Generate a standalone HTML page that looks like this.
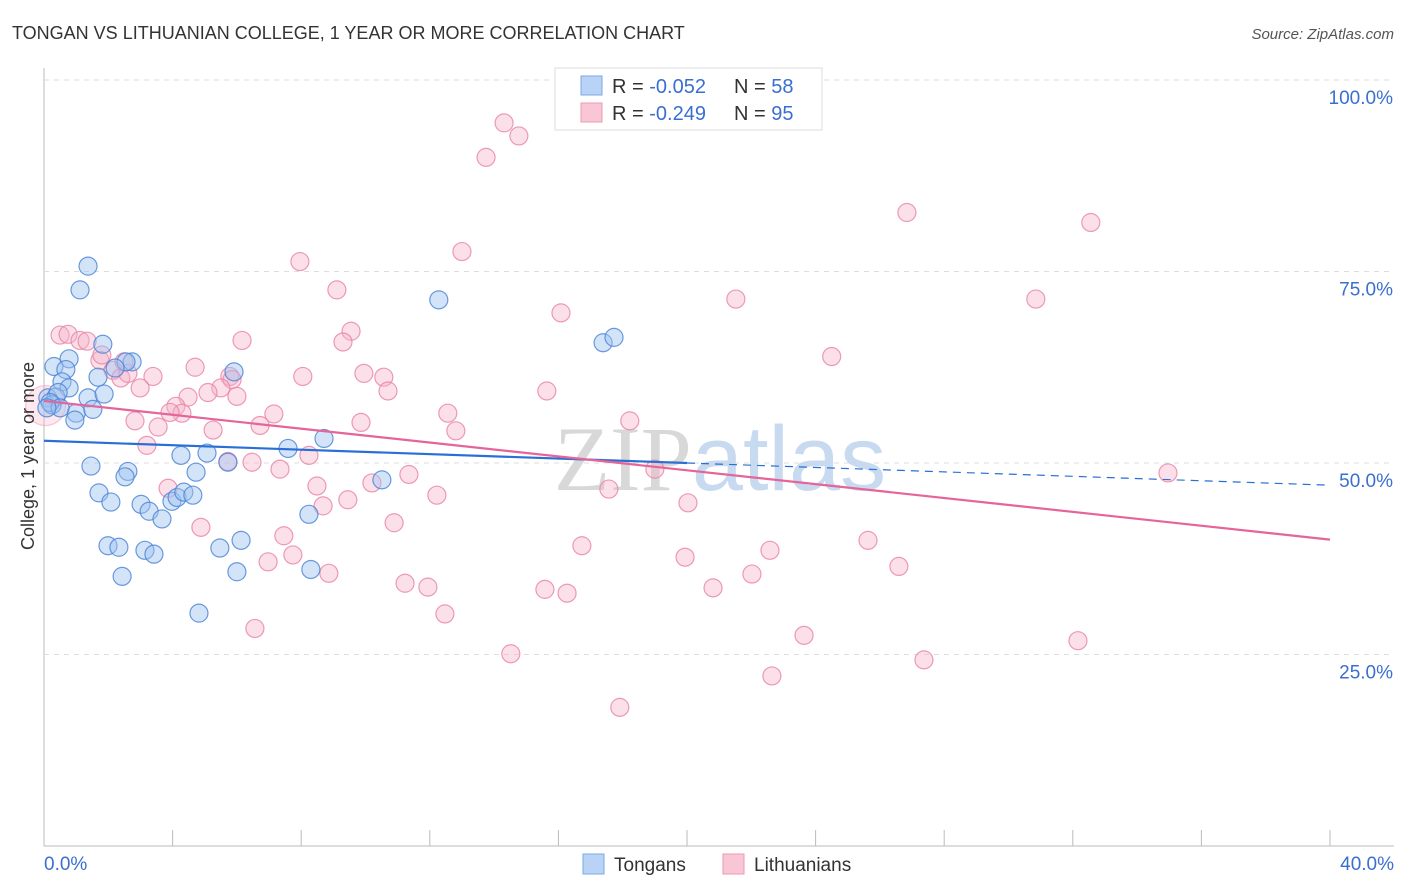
<!DOCTYPE html>
<html><head><meta charset="utf-8">
<style>
body{margin:0;background:#fff;font-family:"Liberation Sans",sans-serif;}
svg{display:block}
</style></head>
<body>
<svg id="chart" width="1406" height="892">
<text x="12" y="39" font-size="18" fill="#333">TONGAN VS LITHUANIAN COLLEGE, 1 YEAR OR MORE CORRELATION CHART</text>
<text x="1394" y="39" font-size="15" fill="#555" font-style="italic" text-anchor="end">Source: ZipAtlas.com</text>
<g id="grid"></g>
<text x="720" y="490" font-size="92" fill="#ddd" text-anchor="middle" font-family="Liberation Serif,serif"><tspan fill="#d8d8d8">ZIP</tspan><tspan fill="#c8daf0" font-family="Liberation Sans,sans-serif">atlas</tspan></text>
<g id="pts"></g>
<g id="lines"></g>
<text transform="translate(34,456) rotate(-90)" font-size="18" fill="#333" text-anchor="middle">College, 1 year or more</text>
<g>
<rect x="555" y="68" width="267" height="62" fill="#fff" stroke="#ddd"/>
<rect x="581" y="76" width="21" height="19" fill="#b8d3f5" stroke="#7aa8e6"/>
<rect x="581" y="103" width="21" height="19" fill="#f9c6d5" stroke="#ec9ab5"/>
<text x="612" y="93" font-size="20" fill="#333">R = <tspan fill="#3a6fd0">-0.052</tspan></text>
<text x="734" y="93" font-size="20" fill="#333">N = <tspan fill="#3a6fd0">58</tspan></text>
<text x="612" y="120" font-size="20" fill="#333">R = <tspan fill="#3a6fd0">-0.249</tspan></text>
<text x="734" y="120" font-size="20" fill="#333">N = <tspan fill="#3a6fd0">95</tspan></text>
</g>
<g>
<rect x="583" y="854" width="21" height="20" fill="#b8d3f5" stroke="#7aa8e6"/>
<text x="614" y="871" font-size="19" fill="#333">Tongans</text>
<rect x="723" y="854" width="21" height="20" fill="#f9c6d5" stroke="#ec9ab5"/>
<text x="754" y="871" font-size="19" fill="#333">Lithuanians</text>
</g>
</svg>
<script>
const yTicks=[25,50,75,100];
const xLabels=["0.0%","40.0%"];
const tonganX=[1.37,1.12,12.28,17.39,17.73,1.83,2.74,2.55,0.78,0.31,0.68,0.56,0.78,1.68,0.12,0.37,0.44,0.25,1.37,1.87,1.0,1.52,0.96,2.21,5.91,7.59,8.71,1.46,2.61,2.52,4.26,5.07,5.72,4.73,1.71,2.08,3.02,3.27,3.67,3.98,4.14,4.35,4.63,10.51,8.24,1.99,2.33,3.14,3.42,5.47,6.13,2.43,6.0,8.3,4.82,0.19,0.5,0.09];
const tonganY=[75.7,72.6,71.3,65.7,66.4,65.5,63.2,63.2,63.6,62.6,62.2,60.6,59.8,61.2,58.5,58.6,59.2,57.6,58.5,59.0,56.5,57.0,55.6,62.4,61.9,51.9,53.2,49.6,48.9,48.2,51.0,51.3,50.1,48.8,46.1,44.9,44.6,43.7,42.7,45.0,45.5,46.2,45.8,47.8,43.3,39.2,39.0,38.6,38.1,38.9,39.9,35.2,35.8,36.1,30.4,57.9,57.2,57.2];
const lithX=[14.31,14.77,13.75,26.84,32.56,13.0,7.96,9.11,21.52,30.85,16.08,9.55,9.3,6.16,0.5,0.75,1.12,1.34,1.74,1.8,2.15,2.39,2.61,2.49,3.39,2.99,4.7,5.78,5.85,8.05,9.95,10.57,10.7,15.64,5.5,5.1,6.0,4.48,4.1,4.29,3.92,7.15,9.86,2.83,3.55,12.56,6.72,5.26,12.81,18.22,24.5,3.2,8.24,6.47,5.72,7.34,11.35,10.2,19.0,34.96,8.49,3.86,9.45,12.22,8.68,17.57,20.03,10.89,4.88,7.46,25.63,16.73,22.58,19.94,7.74,6.97,8.86,22.02,26.59,11.23,11.94,15.58,16.27,20.81,12.47,6.56,23.64,32.16,14.52,27.37,22.64,17.91,0.05];
const lithY=[94.4,92.7,89.9,82.7,81.4,77.6,76.3,72.6,71.4,71.4,69.6,67.2,65.8,66.0,66.7,66.8,66.0,65.9,63.4,64.1,62.1,61.1,61.7,63.2,61.3,59.8,62.5,61.3,60.9,61.3,61.7,61.2,59.4,59.4,59.8,59.2,58.7,58.6,57.4,56.5,56.6,56.4,55.3,55.5,54.7,56.5,54.9,54.3,54.2,55.5,63.9,52.3,51.0,50.1,50.2,49.2,48.5,47.4,49.2,48.7,47.0,46.7,45.2,45.8,44.4,46.6,44.8,42.2,41.6,40.5,39.9,39.2,38.6,37.7,38.0,37.1,35.6,35.5,36.5,34.3,33.8,33.5,33.0,33.7,30.3,28.4,27.5,26.8,25.1,24.3,22.2,18.1,57.5];
const tonganTrend=[52.9,47.1];
const lithTrend=[58.1,40.0];
const tonganSolidEnd=20;

const NS="http://www.w3.org/2000/svg";
const sx=v=>44+v/40*1286;
const sy=v=>846-v/100*766;
function mk(tag,attrs,parent){const e=document.createElementNS(NS,tag);for(const k in attrs)e.setAttribute(k,attrs[k]);parent.appendChild(e);return e;}
const grid=document.getElementById('grid');
const svg=document.getElementById('chart');
mk('line',{x1:44,y1:68,x2:44,y2:846,stroke:'#bbb'},grid);
mk('line',{x1:44,y1:846,x2:1394,y2:846,stroke:'#bbb'},grid);
for(let i=0;i<=10;i++){mk('line',{x1:sx(i*4),y1:830,x2:sx(i*4),y2:846,stroke:'#bbb'},grid);}
yTicks.forEach(t=>{
 const l=mk('line',{x1:44,y1:sy(t),x2:1394,y2:sy(t),stroke:'#ddd','stroke-dasharray':'5,5'},grid);
 
 
 const tx=mk('text',{x:1393,y:sy(t)+24,'font-size':19,fill:'#3a6fd0','text-anchor':'end'},svg);
 tx.textContent=t.toFixed(1)+'%';
 
 
});
const x0=mk('text',{x:44,y:870,'font-size':19,fill:'#3a6fd0'},svg);x0.textContent=xLabels[0];


const x1=mk('text',{x:1394,y:870,'font-size':19,fill:'#3a6fd0','text-anchor':'end'},svg);x1.textContent=xLabels[1];


const pts=document.getElementById('pts');
lithX.forEach((x,i)=>{
 const big=i===lithX.length-1;
 const c=mk('circle',{cx:sx(x),cy:sy(lithY[i]),r:big?20:9,fill:big?'rgba(246,178,200,0.3)':'rgba(246,178,200,0.4)',stroke:big?'rgba(232,130,165,0.4)':'rgba(232,130,165,0.8)','stroke-width':1.2},pts);
 
 
});
tonganX.forEach((x,i)=>{
 const c=mk('circle',{cx:sx(x),cy:sy(tonganY[i]),r:9,fill:'rgba(160,196,240,0.45)',stroke:'rgba(70,130,215,0.8)','stroke-width':1.2},pts);
 
 
});
const lines=document.getElementById('lines');
const ty=x=>tonganTrend[0]+(tonganTrend[1]-tonganTrend[0])*x/40;
const a=mk('line',{x1:sx(0),y1:sy(ty(0)),x2:sx(tonganSolidEnd),y2:sy(ty(tonganSolidEnd)),stroke:'#2a6fd6','stroke-width':2.2},lines);


const b=mk('line',{x1:sx(tonganSolidEnd),y1:sy(ty(tonganSolidEnd)),x2:sx(40),y2:sy(ty(40)),stroke:'#2a6fd6','stroke-width':1.2,'stroke-dasharray':'8,6'},lines);


const c=mk('line',{x1:sx(0),y1:sy(lithTrend[0]),x2:sx(40),y2:sy(lithTrend[1]),stroke:'#e5649a','stroke-width':2.2},lines);


</script>
</body></html>
